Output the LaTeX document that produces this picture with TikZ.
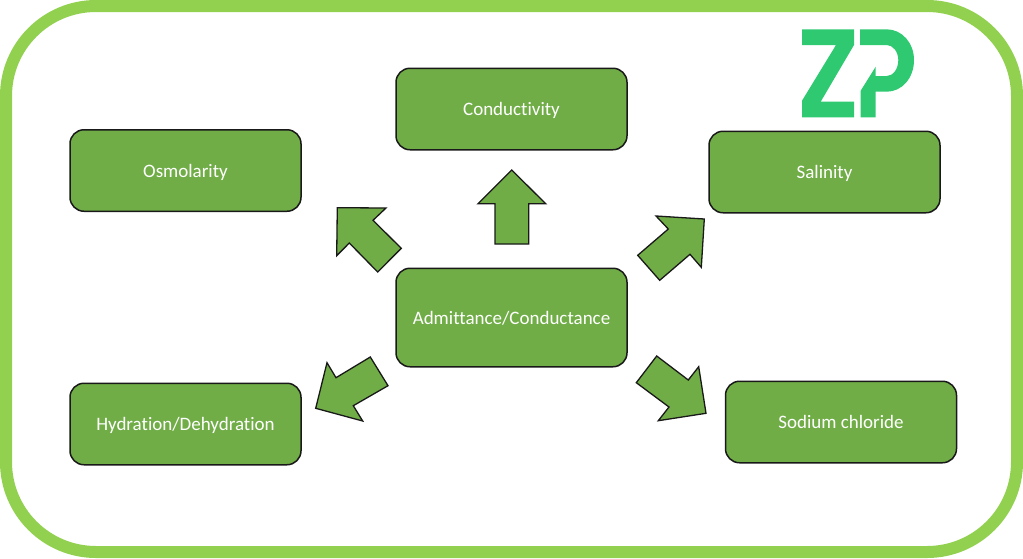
\documentclass[tikz,border=0pt]{standalone}
\usepackage{fontspec}
\setmainfont[Ligatures=NoCommon]{Carlito}
\definecolor{framegreen}{HTML}{92D050}
\definecolor{boxgreen}{HTML}{70AD47}
\definecolor{logogreen}{HTML}{2EC971}

\begin{document}
\begin{tikzpicture}[x=1pt,y=-1pt]
\useasboundingbox (0,0) rectangle (1023,558);
\draw[framegreen, line width=12pt, rounded corners=90pt] (6,6) rectangle (1017,552);

\begin{scope}[every node/.style={draw=black!90,fill=boxgreen,line width=1.5pt,rounded corners=14pt,
  text=white,font=\fontsize{19}{21}\selectfont,inner sep=0pt,minimum width=231pt,minimum height=81.5pt,
  text height=13.5pt,text depth=0pt}]
 \node (osmolarity) at (185.5,170.5) {Osmolarity};
 \node (conductivity) at (511.5,109) {Conductivity};
 \node (salinity) at (824.5,172) {Salinity};
 \node[minimum height=98.5pt] (admittance) at (511.5,317.5) {Admittance/Conductance};
 \node (hydration) at (185.5,424) {Hydration/Dehydration};
 \node (sodium) at (841,422) {Sodium chloride};
\end{scope}

\begin{scope}[draw=black!90,fill=boxgreen,line width=1.3pt,miter limit=10]
 \filldraw (511.7,170) -- (545.7,203.7) -- (528.7,203.7) -- (528.7,244) -- (495,244) -- (495,203.7) -- (478,203.7) -- cycle;
 \filldraw (337.3,207.7) -- (386,208) -- (373,220.3) -- (401.3,248.3) -- (377.7,272) -- (349.3,243) -- (336.7,255.7) -- cycle;
 \filldraw (704.3,219) -- (656,216) -- (668.3,229) -- (637.7,255.3) -- (659.7,280.3) -- (690,254.3) -- (701.3,267.3) -- cycle;
 \filldraw (315.7,408.3) -- (362.7,421) -- (353.3,405.7) -- (388,385.7) -- (370.3,357) -- (336,377.7) -- (327,362.7) -- cycle;
 \filldraw (706,413.3) -- (698.7,366.7) -- (688.3,380) -- (656.7,356) -- (636.3,382.7) -- (669,407) -- (658.3,420.7) -- cycle;
\end{scope}

% logo
\fill[logogreen] (802,29.3) -- (854,29.3) -- (854,45) -- (820.7,101.7) -- (854,101.7) -- (854,117.3) -- (802,117.3) -- (802,100.7) -- (836,45) -- (802,45) -- cycle;
\fill[logogreen] (860,29.3) -- (886.7,29.3) .. controls (902,29.3) and (914,43) .. (914,60) .. controls (914,78) and (902,91.7) .. (886.7,91.7) -- (875.7,91.7) -- (875.7,117.3) -- (860.7,117.3) -- (860.7,90.7) -- (875.7,66.7) -- (875.7,76) -- (886.7,76) .. controls (893,76) and (898.3,69) .. (898.3,60) .. controls (898.3,52) and (893,45) .. (886.7,45) -- (860,45) -- cycle;
\end{tikzpicture}
\end{document}
